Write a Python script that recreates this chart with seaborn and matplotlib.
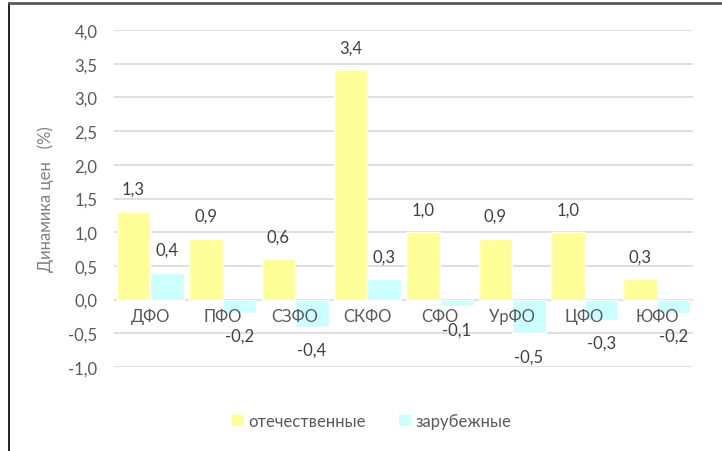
import matplotlib
matplotlib.use("Agg")
import matplotlib.pyplot as plt
import seaborn as sns
import pandas as pd
from matplotlib.lines import Line2D
from matplotlib.patches import Patch

# ============================================================
# Data
# ============================================================

districts = ["ДФО", "ПФО", "СЗФО", "СКФО", "СФО", "УрФО", "ЦФО", "ЮФО"]
domestic = [1.3, 0.9, 0.6, 3.4, 1.0, 0.9, 1.0, 0.3]
foreign = [0.4, -0.2, -0.4, 0.3, -0.1, -0.5, -0.3, -0.2]
series_names = ["отечественные", "зарубежные"]
y_ticks = [-1.0, -0.5, 0.0, 0.5, 1.0, 1.5, 2.0, 2.5, 3.0, 3.5, 4.0]

colors = ["#FFFF99", "#CCFFFF"]
text_color = "#404040"
tick_color = "#595959"
fs = 12

df = pd.DataFrame({
    "Округ": districts * 2,
    "Серия": [series_names[0]] * len(districts) + [series_names[1]] * len(districts),
    "Значение": domestic + foreign,
})

# ============================================================
# Figure
# ============================================================

sns.set_theme(style="white")
plt.rcParams["font.family"] = ["Lato", "DejaVu Sans"]

fig = plt.figure(figsize=(7.22, 4.52), dpi=100)
ax = fig.add_axes([0.158, 0.1858, 0.802, 0.7456])

sns.barplot(
    data=df, x="Округ", y="Значение", hue="Серия",
    hue_order=series_names, palette=colors,
    width=0.925, gap=0, saturation=1, ax=ax, legend=False,
)

ax.set_ylim(-1.0, 4.0)
ax.set_yticks(y_ticks)
ax.set_yticklabels([f"{v:.1f}".replace(".", ",") for v in y_ticks])
ax.grid(axis="y", color="#D9D9D9", linewidth=1.2)
ax.set_axisbelow(True)
for s in ax.spines.values():
    s.set_visible(False)
ax.tick_params(axis="y", length=0, pad=12, labelsize=fs, labelcolor=tick_color)
ax.tick_params(axis="x", length=0, labelbottom=False)
ax.set_xlabel("")
ax.set_ylabel("Динамика цен   (%)", fontsize=fs, color="#808080", labelpad=10)

# category labels sit at the zero line
for i, name in enumerate(districts):
    ax.annotate(name, (i, 0), xytext=(0, -12), textcoords="offset points",
                ha="center", va="center", fontsize=fs, color=tick_color)

# value labels
for container in ax.containers:
    for bar in container:
        h = bar.get_height()
        x = bar.get_x() + bar.get_width() / 2
        off = 16.5 if h >= 0 else -16.5
        ax.annotate(f"{h:.1f}".replace(".", ","), (x, h), xytext=(0, off),
                    textcoords="offset points", ha="center", va="center",
                    fontsize=fs, color=text_color)

# legend
handles = [Patch(facecolor=c, edgecolor="none") for c in colors]
fig.legend(handles, series_names, loc="center", bbox_to_anchor=(0.515, 0.066),
           ncol=2, frameon=False, fontsize=fs, handlelength=0.7,
           handleheight=0.7, handletextpad=0.3, columnspacing=2.0,
           labelcolor=tick_color)

# chart frame
fig.add_artist(Line2D([0.0125, 0.0125], [0, 0.991], color="black", lw=1.2,
                      transform=fig.transFigure))
fig.add_artist(Line2D([0.0125, 0.998], [0.991, 0.991], color="#595959", lw=2,
                      transform=fig.transFigure))

fig.savefig("out.png", dpi=100)
